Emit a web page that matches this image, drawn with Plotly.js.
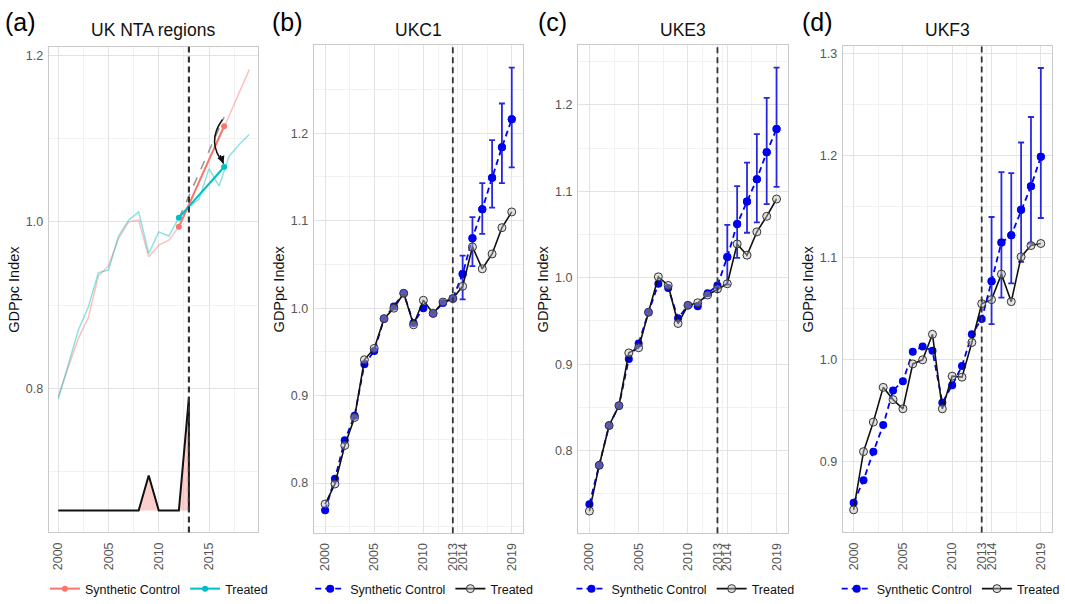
<!DOCTYPE html>
<html><head><meta charset="utf-8">
<script src="https://cdn.plot.ly/plotly-3.0.1.min.js"></script>
<style>html,body{margin:0;padding:0;background:#fff}#chart{width:1065px;height:604px}</style>
</head><body><div id="chart"></div><script>
// ---------- data ----------
const years = [2000,2001,2002,2003,2004,2005,2006,2007,2008,2009,2010,2011,2012,2013,2014,2015,2016,2017,2018,2019];
const postYears = [2014,2015,2016,2017,2018,2019];
const treatYear = 2013;

// Panel (a) UK NTA regions
const aSynthAll   = [0.790,0.826,0.860,0.885,0.935,0.947,0.980,1.000,1.002,0.958,0.972,0.978,0.994,1.020,1.048,1.075,1.100,1.127,1.155,1.183];
const aTreatedAll = [0.787,0.829,0.870,0.898,0.939,0.942,0.983,1.002,1.012,0.962,0.988,0.983,1.005,1.018,1.027,1.064,1.043,1.079,1.093,1.105];
const aTrendYears   = [2012, 2016.5];
const aTrendSynth   = [0.994, 1.115];
const aTrendTreated = [1.005, 1.066];
const aTrendCounter = [1.004, 1.126];
const aGapYears  = [2000,2001,2002,2003,2004,2005,2006,2007,2008,2009,2010,2011,2012,2013,2013];
const aGapValues = [0.653,0.653,0.653,0.653,0.653,0.653,0.653,0.653,0.653,0.695,0.653,0.653,0.653,0.789,0.653];
const aGapBase = 0.653;

// Panel (b) UKC1
const bSynth   = [0.769,0.805,0.849,0.877,0.936,0.951,0.988,1.002,1.017,0.983,1.000,0.994,1.006,1.011,1.039,1.080,1.113,1.149,1.184,1.216];
const bTreated = [0.776,0.799,0.843,0.875,0.941,0.954,0.988,1.000,1.017,0.981,1.009,0.994,1.007,1.011,1.025,1.070,1.045,1.062,1.092,1.110];
const bUpper = [1.060,1.104,1.143,1.192,1.234,1.275];
const bLower = [1.010,1.048,1.085,1.115,1.143,1.161];

// Panel (c) UKE3
const cSynth   = [0.738,0.783,0.829,0.852,0.906,0.924,0.960,0.993,0.988,0.953,0.968,0.967,0.982,0.991,1.024,1.062,1.088,1.114,1.145,1.172];
const cTreated = [0.730,0.783,0.829,0.852,0.913,0.919,0.960,1.001,0.991,0.947,0.968,0.971,0.980,0.987,0.993,1.039,1.026,1.053,1.071,1.091];
const cUpper = [1.061,1.106,1.133,1.166,1.208,1.243];
const cLower = [0.992,1.023,1.052,1.064,1.085,1.105];

// Panel (d) UKF3
const dSynth   = [0.860,0.882,0.910,0.936,0.970,0.979,1.008,1.013,1.009,0.958,0.975,0.994,1.025,1.040,1.077,1.115,1.122,1.147,1.170,1.199];
const dTreated = [0.853,0.910,0.939,0.973,0.961,0.952,0.996,1.000,1.025,0.952,0.984,0.983,1.017,1.055,1.059,1.084,1.057,1.101,1.112,1.114];
const dUpper = [1.140,1.184,1.183,1.213,1.238,1.286];
const dLower = [1.035,1.061,1.075,1.096,1.114,1.139];

const panelTitles = ['UK NTA regions','UKC1','UKE3','UKF3'];
const panelLabels = ['(a)','(b)','(c)','(d)'];
const xTicksA = [2000,2005,2010,2015];
const xTicksB = [2000,2005,2010,2013,2014,2019];

// ---------- styles ----------
const PINK = '#F8766D', CYAN = '#00BFC4', BLUE = '#0000F0', ERR = 'rgb(40,40,225)';
const FONT = 'Liberation Sans, Arial, sans-serif';
const W = 1065, H = 604;
const px = v => v / W, py = v => 1 - v / H;

const traces = [];
// Panel (a)
traces.push({x: years, y: aSynthAll, mode:'lines', line:{color:'rgba(248,118,109,0.45)', width:1.5}, xaxis:'x', yaxis:'y', showlegend:false, hoverinfo:'skip'});
traces.push({x: years, y: aTreatedAll, mode:'lines', line:{color:'rgba(0,191,196,0.45)', width:1.5}, xaxis:'x', yaxis:'y', showlegend:false, hoverinfo:'skip'});
traces.push({x: aTrendYears, y: aTrendCounter, mode:'lines', line:{color:'rgba(110,110,110,0.75)', width:1.5, dash:'dash'}, xaxis:'x', yaxis:'y', showlegend:false});
traces.push({x: aTrendYears, y: aTrendSynth, mode:'lines+markers', name:'Synthetic Control', line:{color:PINK, width:2}, marker:{color:PINK, size:6}, xaxis:'x', yaxis:'y', legend:'legend'});
traces.push({x: aTrendYears, y: aTrendTreated, mode:'lines+markers', name:'Treated', line:{color:CYAN, width:2}, marker:{color:CYAN, size:6}, xaxis:'x', yaxis:'y', legend:'legend'});
traces.push({x: [aGapYears[0], aGapYears[aGapYears.length-1]], y: [aGapBase, aGapBase], mode:'lines', line:{width:0, color:'rgba(0,0,0,0)'}, xaxis:'x', yaxis:'y', showlegend:false, hoverinfo:'skip'});
traces.push({x: aGapYears, y: aGapValues, mode:'lines', line:{color:'#111', width:2}, fill:'tonexty', fillcolor:'rgba(248,118,109,0.35)', xaxis:'x', yaxis:'y', showlegend:false});

function addPanel(idx, synth, treated, upper, lower) {
  const xa = 'x' + (idx+1), ya = 'y' + (idx+1), lg = 'legend' + (idx+1);
  traces.push({x: years, y: synth, mode:'lines+markers', name:'Synthetic Control',
    line:{color:BLUE, width:1.8, dash:'6px,4px'}, marker:{color:BLUE, size:8},
    xaxis:xa, yaxis:ya, legend:lg});
  const postSynth = postYears.map(y => synth[years.indexOf(y)]);
  traces.push({x: postYears, y: postSynth, mode:'markers', marker:{color:BLUE, size:8},
    error_y:{type:'data', symmetric:false,
      array: upper.map((u,i) => u - postSynth[i]),
      arrayminus: lower.map((l,i) => postSynth[i] - l),
      color:ERR, thickness:1.8, width:3},
    xaxis:xa, yaxis:ya, showlegend:false});
  traces.push({x: years, y: treated, mode:'lines+markers', name:'Treated',
    line:{color:'#111', width:1.6},
    marker:{symbol:'circle', color:'rgba(190,190,190,0.45)', size:8, line:{color:'#333', width:1}},
    xaxis:xa, yaxis:ya, legend:lg});
}
addPanel(1, bSynth, bTreated, bUpper, bLower);
addPanel(2, cSynth, cTreated, cUpper, cLower);
addPanel(3, dSynth, dTreated, dUpper, dLower);

// ---------- layout ----------
const GRID = '#E3E3E3', MINOR = '#F1F1F1', BORDER = '#C9C9C9', TICK = '#555555';
function xAxis(dom, range, tickvals, minorvals, anchor) {
  return {domain: dom, range: range, anchor: anchor, tickvals: tickvals, ticktext: tickvals.map(String),
    tickangle: -90, tickfont:{size:12.5, color:TICK, family:FONT}, showgrid:true, gridcolor:GRID, gridwidth:1,
    minor:{tickvals: minorvals, showgrid:true, gridcolor:MINOR, gridwidth:1, ticks:''},
    showline:true, mirror:true, linecolor:BORDER, linewidth:1, zeroline:false,
    ticks:'outside', ticklen:4, tickcolor:'rgba(0,0,0,0)', fixedrange:true};
}
function yAxis(dom, range, tickvals, minorvals, anchor) {
  return {domain: dom, range: range, anchor: anchor, tickvals: tickvals, ticktext: tickvals.map(v => v.toFixed(1)),
    tickfont:{size:12.5, color:TICK, family:FONT}, showgrid:true, gridcolor:GRID, gridwidth:1,
    minor:{tickvals: minorvals, showgrid:true, gridcolor:MINOR, gridwidth:1, ticks:''},
    showline:true, mirror:true, linecolor:BORDER, linewidth:1, zeroline:false,
    ticks:'outside', ticklen:2, tickcolor:'rgba(0,0,0,0)',
    title:{text:'GDPpc Index', font:{size:14.5, color:'#111', family:FONT}, standoff:2}, fixedrange:true};
}
const minorXB = [2002.5, 2007.5, 2011.5, 2013.5, 2016.5];
const layout = {
  width: W, height: H, margin:{l:0, r:0, t:0, b:0}, paper_bgcolor:'#fff', plot_bgcolor:'#fff',
  font:{family:FONT, color:'#111'}, hovermode:false,
  xaxis:  xAxis([px(49), px(260)], [1999.05, 2019.9], xTicksA, [2002.5,2007.5,2012.5,2017.5], 'y'),
  yaxis:  yAxis([1-536/H, 1-47/H], [0.6266, 1.2106], [0.8,1.0,1.2], [0.7,0.9,1.1], 'x'),
  xaxis2: xAxis([px(315.7), px(526.7)], [1998.83, 2020.17], xTicksB, minorXB, 'y2'),
  yaxis2: yAxis([1-536.7/H, 1-45.7/H], [0.7428, 1.3004], [0.8,0.9,1.0,1.1,1.2], [0.75,0.85,0.95,1.05,1.15,1.25], 'x2'),
  xaxis3: xAxis([px(581.7), px(793.3)], [1998.83, 2020.17], xTicksB, minorXB, 'y3'),
  yaxis3: yAxis([1-536.7/H, 1-45.7/H], [0.7045, 1.2687], [0.8,0.9,1.0,1.1,1.2], [0.75,0.85,0.95,1.05,1.15,1.25], 'x3'),
  xaxis4: xAxis([px(848.3), px(1059.3)], [1998.89, 2020.17], xTicksB, minorXB, 'y4'),
  yaxis4: yAxis([1-536/H, 1-46.7/H], [0.8308, 1.3072], [0.9,1.0,1.1,1.2,1.3], [0.85,0.95,1.05,1.15,1.25], 'x4'),
  shapes: [], annotations: []
};
const legendBase = {orientation:'h', yanchor:'middle', y: py(593), xanchor:'center', bgcolor:'rgba(0,0,0,0)',
  font:{size:12.5, color:'#111', family:FONT}, itemwidth:30, tracegroupgap:0, traceorder:'normal'};
const centers = [160, 427, 690, 957];
layout.legend  = Object.assign({}, legendBase, {x: px(centers[0])});
layout.legend2 = Object.assign({}, legendBase, {x: px(centers[1])});
layout.legend3 = Object.assign({}, legendBase, {x: px(centers[2])});
layout.legend4 = Object.assign({}, legendBase, {x: px(centers[3])});

// treatment year dashed lines
['x','x2','x3','x4'].forEach((xr, i) => {
  const yr = i === 0 ? 'y' : 'y' + (i+1);
  layout.shapes.push({type:'line', xref:xr, yref: yr + ' domain', x0:treatYear, x1:treatYear, y0:0, y1:1,
    line:{color:'#333', width: i === 0 ? 2.2 : 1.8, dash:'6px,4px'}, layer:'above'});
});

// curved arrow in panel (a): from synthetic end to treated end
const ax0 = aTrendYears[1], ay0 = aTrendCounter[1] - 0.003;
const ax1 = aTrendYears[1], ay1 = aTrendTreated[1] + 0.004;
const cx = ax0 - 1.8, cy = (ay0 + ay1) / 2;
layout.shapes.push({type:'path', xref:'x', yref:'y', path:`M ${ax0-0.15},${ay0} Q ${cx},${cy} ${ax1-0.05},${ay1}`,
  line:{color:'#111', width:1.5}, layer:'above'});
layout.annotations.push({xref:'x', yref:'y', axref:'x', ayref:'y', x: ax1 - 0.05, y: ay1, ax: ax1 - 0.45, ay: ay1 + 0.012,
  text:'', showarrow:true, arrowhead:2, arrowsize:1, arrowwidth:1.5, arrowcolor:'#111'});

// panel titles & labels
const titleX = [154.5, 421.2, 687.5, 953.8];
const labelX = [3, 272, 540, 805];
panelTitles.forEach((t, i) => {
  layout.annotations.push({xref:'paper', yref:'paper', x: px(titleX[i]), y: py(30), text: t, showarrow:false,
    xanchor:'center', yanchor:'middle', font:{size:17.5, color:'#111', family:FONT}});
  layout.annotations.push({xref:'paper', yref:'paper', x: px(labelX[i]), y: py(22), text: panelLabels[i], showarrow:false,
    xanchor:'left', yanchor:'middle', font:{size:25, color:'#000', family:FONT}});
});

Plotly.newPlot('chart', traces, layout, {displayModeBar:false, staticPlot:true});
</script></body></html>
